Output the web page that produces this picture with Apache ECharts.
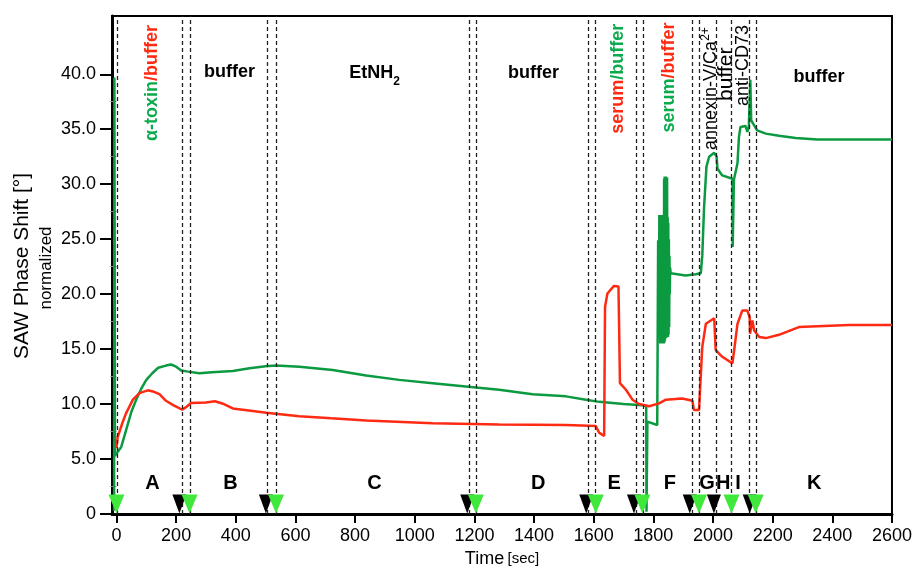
<!DOCTYPE html>
<html>
<head>
<meta charset="utf-8">
<script src="https://cdn.jsdelivr.net/npm/echarts@6/dist/echarts.min.js"></script>
<style>html,body{margin:0;padding:0;background:#fff}#c{width:915px;height:574px}</style>
</head>
<body>
<div id="c"></div>
<script>
// ---- data ----
const xTicks = [0,200,400,600,800,1000,1200,1400,1600,1800,2000,2200,2400,2600];
const yTicks = [0,5,10,15,20,25,30,35,40];
const yMinorTicks = [2.5,7.5,12.5,17.5,22.5,27.5,32.5,37.5];

const greenData = [
 [-8,0.3],[-7,39.7],[-5,5.3],[0,5.4],[16,6.1],[32,7.6],[50,9.3],[66,10.4],[85,11.5],[100,12.2],
 [120,12.8],[140,13.3],[166,13.5],[183,13.6],[200,13.4],[217,13.05],[240,12.95],[278,12.8],[320,12.9],
 [390,13.0],[446,13.25],[500,13.45],[535,13.5],[613,13.4],[725,13.1],[837,12.6],[948,12.2],[1060,11.9],
 [1205,11.5],[1283,11.3],[1395,10.9],[1507,10.7],[1574,10.4],[1618,10.2],[1700,10.0],[1763,9.9],
 [1776,9.8],[1777,0.2],[1779,0.2],[1780,8.4],[1813,8.1],
 [1815,8.2],[1816,24.9],[1817,18.8],[1818,24.5],[1819,17.5],[1820,27.2],[1821,16.0],[1822,27.1],
 [1823,15.5],[1824,27.2],[1825,15.6],[1826,27.0],[1827,15.5],[1828,27.2],[1829,15.7],[1830,27.1],
 [1831,15.5],[1832,27.2],[1833,15.6],[1834,27.0],[1835,15.5],[1836,30.5],[1837,15.6],[1838,30.7],
 [1839,15.8],[1840,30.6],[1841,16.0],[1842,30.7],[1843,16.0],[1844,30.5],[1845,16.1],[1846,30.6],
 [1847,16.2],[1848,27.0],[1849,16.1],[1850,26.5],[1851,16.3],[1852,25.0],[1853,17.0],[1854,23.5],
 [1855,20.0],[1856,22.4],[1858,21.9],
 [1908,21.7],[1942,21.8],[1959,21.9],[1964,23.5],[1970,27.9],[1978,31.6],[1987,32.5],[2004,32.85],
 [2012,32.5],[2015,31.4],[2031,30.8],[2065,30.5],[2066,24.3],[2069,24.3],[2070,30.4],[2082,31.9],
 [2087,34.3],[2092,35.2],[2109,35.3],[2115,34.75],[2120,35.2],[2124,35.2],[2125,39.5],[2127,39.5],
 [2128,35.8],[2132,35.8],[2148,34.9],[2177,34.6],[2221,34.4],[2277,34.2],[2350,34.06],[2600,34.06]
];

const redData = [
 [0,6.0],[4,7.0],[20,8.3],[32,9.15],[55,10.4],[77,11.0],[105,11.25],[122,11.15],[144,10.9],[166,10.3],
 [190,9.9],[220,9.5],[235,9.75],[250,10.1],[300,10.15],[330,10.25],[360,10.0],[390,9.6],[450,9.4],
 [502,9.2],[613,8.9],[720,8.7],[837,8.5],[1060,8.25],[1283,8.15],[1507,8.1],[1607,8.0],[1618,7.4],
 [1635,7.1],[1638,18.85],[1646,20.06],[1668,20.75],[1683,20.7],[1685,17.3],[1688,11.9],[1708,11.3],
 [1730,10.4],[1752,10.0],[1786,9.8],[1819,10.06],[1842,10.4],[1897,10.5],[1931,10.3],[1936,9.45],
 [1953,9.45],[1964,15.2],[1976,17.3],[2004,17.8],[2006,17.8],[2009,14.9],[2031,14.3],[2065,13.7],
 [2071,14.9],[2082,17.3],[2098,18.5],[2115,18.5],[2123,17.9],[2124,16.4],[2132,17.6],[2138,16.7],
 [2155,16.1],[2177,16.0],[2221,16.3],[2288,17.0],[2456,17.2],[2600,17.2]
];

const dashTimes = [2,220,248,506,536,1183,1205,1581,1605,1743,1765,1929,1953,2012,2062,2123,2146];
const blackMarkerTimes = [211,501,1176,1575,1735,1922,2003,2123];
const greenMarkerTimes = [0,245,535,1205,1607,1763,1953,2062,2143];
const markerLevel = 0.91;

const phaseLetters = ['A','B','C','D','E','F','G','H','I','K'];
const phaseTimes = [121,382,865,1414,1669,1855,1980,2034,2084,2339];
const phaseLevel = 2.8;

const topLabelTexts = [
 '{g|α-toxin}{r|/buffer}',
 '{b|buffer}',
 '{b|EtNH}{sub|2}',
 '{b|buffer}',
 '{r|serum}{g|/buffer}',
 '{g|serum}{r|/buffer}',
 '{n|annexin-V/Ca}{sup|2+}',
 '{nb|buffer}',
 '{n|anti-CD73}',
 '{b|buffer}'
];
const topLabelTimes = [118,379,865,1398,1682,1853,1993,2043,2101,2355];
const topLabelLevels = [39.2,40.2,40.1,40.1,39.6,39.7,38.7,40.0,40.8,39.75];
const topLabelRotations = [90,0,0,0,90,90,90,90,90,0];

// ---- chart ----
const FONT = 'Liberation Sans, Arial, Helvetica, sans-serif';
const GREEN_LINE = '#0b9a40';
const RED_LINE = '#ff2a12';
const GREEN_TXT = '#0aab4c';
const RED_TXT = '#ff2a12';
const MARK_GREEN = '#3fe83a';

const rich = {
  g: {color: GREEN_TXT, fontWeight: 'bold', fontSize: 18, fontFamily: FONT, textBorderWidth: 0},
  r: {color: RED_TXT, fontWeight: 'bold', fontSize: 18, fontFamily: FONT, textBorderWidth: 0},
  b: {color: '#000', fontWeight: 'bold', fontSize: 18, fontFamily: FONT, lineHeight: 22, textBorderWidth: 0},
  sub: {color: '#000', fontWeight: 'bold', fontSize: 12, fontFamily: FONT, verticalAlign: 'bottom', lineHeight: 22, padding: [0,0,-4,0], textBorderWidth: 0},
  n: {color: '#000', fontSize: 18, fontFamily: FONT, lineHeight: 22, textBorderWidth: 0},
  nb: {color: '#000', fontSize: 21, fontFamily: FONT, lineHeight: 22, textBorderWidth: 0},
  sup: {color: '#000', fontSize: 12, fontFamily: FONT, verticalAlign: 'top', lineHeight: 22, textBorderWidth: 0}
};

const chart = echarts.init(document.getElementById('c'), null, {renderer: 'canvas'});
const option = {
  animation: false,
  backgroundColor: '#fff',
  grid: {left: 112, right: 22, top: 16, bottom: 60, show: true, borderColor: '#000', borderWidth: 2, containLabel: false},
  xAxis: {
    type: 'value', min: -15, max: 2600,
    name: '{a|Time} {s|[sec]}', nameLocation: 'middle', nameGap: 32,
    nameTextStyle: {rich: {a: {fontSize: 18, fontFamily: FONT, color: '#000'}, s: {fontSize: 15, fontFamily: FONT, color: '#000'}}},
    axisLine: {show: true, onZero: false, lineStyle: {color: '#000', width: 3}},
    axisTick: {show: true, customValues: xTicks, length: 9, lineStyle: {color: '#000', width: 2}},
    axisLabel: {show: true, customValues: xTicks, fontSize: 18, fontFamily: FONT, color: '#000', margin: 13,
      formatter: v => String(v)},
    splitLine: {show: false}
  },
  yAxis: [{
    type: 'value', min: 0, max: 45.3,
    axisLine: {show: true, onZero: false, lineStyle: {color: '#000', width: 3}},
    axisTick: {show: true, customValues: yTicks, length: 12, lineStyle: {color: '#000', width: 2}},
    axisLabel: {show: true, customValues: yTicks, fontSize: 18, fontFamily: FONT, color: '#000', margin: 16,
      formatter: v => v === 0 ? '0' : v.toFixed(1)},
    splitLine: {show: false}
  }, {
    type: 'value', min: 0, max: 45.3, position: 'left',
    axisLine: {show: false},
    axisTick: {show: true, customValues: yMinorTicks, length: 6, lineStyle: {color: '#888', width: 1}},
    axisLabel: {show: false},
    splitLine: {show: false}
  }],
  graphic: [
    {type: 'text', x: 22, y: 266, rotation: Math.PI / 2,
     style: {text: 'SAW Phase Shift [°]', font: '21px ' + FONT, fill: '#000', textAlign: 'center', textVerticalAlign: 'middle'}},
    {type: 'text', x: 46, y: 268, rotation: Math.PI / 2,
     style: {text: 'normalized', font: '17px ' + FONT, fill: '#000', textAlign: 'center', textVerticalAlign: 'middle'}}
  ],
  series: [
    {type: 'line', data: [], z: 1, silent: true,
     markLine: {silent: true, symbol: ['none','none'], label: {show: false},
       lineStyle: {color: '#222', type: [4,3], width: 1.3},
       data: dashTimes.map(t => ({xAxis: t}))}},
    {type: 'line', data: greenData, showSymbol: false, z: 3, lineStyle: {color: GREEN_LINE, width: 2.5}, itemStyle: {color: GREEN_LINE}},
    {type: 'line', data: redData, showSymbol: false, z: 4, lineStyle: {color: RED_LINE, width: 2.5}, itemStyle: {color: RED_LINE}},
    {type: 'scatter', z: 6, clip: false, symbol: 'triangle', symbolRotate: 180, symbolSize: [14, 19],
     itemStyle: {color: '#000', opacity: 1}, data: blackMarkerTimes.map(t => [t, markerLevel])},
    {type: 'scatter', z: 7, clip: false, symbol: 'triangle', symbolRotate: 180, symbolSize: [16, 19],
     itemStyle: {color: MARK_GREEN, opacity: 1}, data: greenMarkerTimes.map(t => [t, markerLevel])},
    {type: 'scatter', z: 8, symbolSize: 0, silent: true, itemStyle: {opacity: 1},
     data: phaseLetters.map((n, i) => ({name: n, value: [phaseTimes[i], phaseLevel]})),
     label: {show: true, position: 'inside', formatter: p => p.name, color: '#000', opacity: 1, textBorderWidth: 0,
       fontWeight: 'bold', fontSize: 20, fontFamily: FONT}},
    {type: 'scatter', z: 9, symbolSize: 0, silent: true, itemStyle: {opacity: 1},
     data: topLabelTexts.map((s, i) => ({name: s, value: [topLabelTimes[i], topLabelLevels[i]],
       label: {rotate: topLabelRotations[i]}})),
     label: {show: true, position: 'inside', align: 'center', verticalAlign: 'middle', color: '#000', opacity: 1, textBorderWidth: 0,
       formatter: p => p.name, rich: rich}}
  ]
};
chart.setOption(option);
</script>
</body>
</html>
